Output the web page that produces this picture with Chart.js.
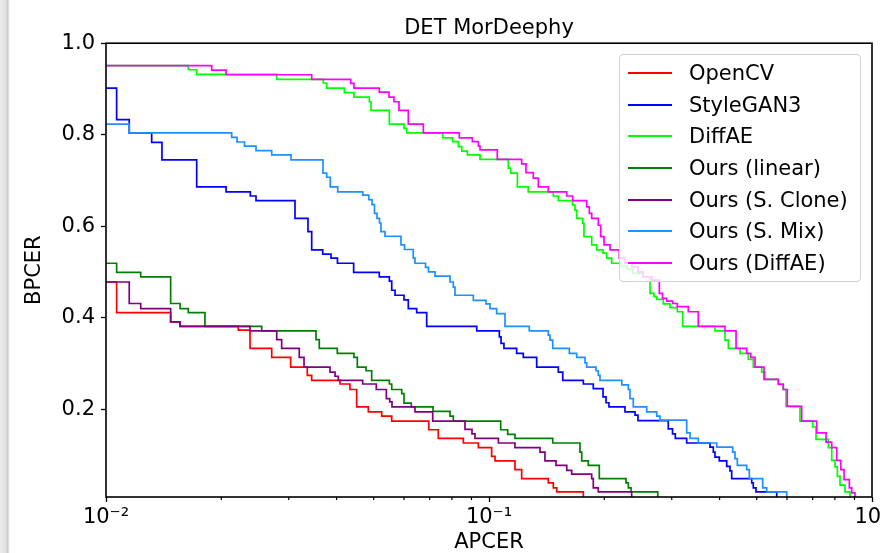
<!DOCTYPE html>
<html>
<head>
<meta charset="utf-8">
<title>DET MorDeephy</title>
<script src="https://cdn.jsdelivr.net/npm/chart.js"></script>
<style>
    html, body { margin: 0; padding: 0; background: #fff; }
    #wrap { position: relative; width: 882px; height: 553px; overflow: hidden; }
    #edge {
        position: absolute; left: 0; top: 0; width: 10px; height: 553px;
        background: linear-gradient(to right, #ececec 0px, #dedede 6px, #c6c6c6 8px, #f2f2f2 9px, #ffffff 10px);
    }
    #det-chart { position: absolute; left: 0; top: 0; }
    #legend {
        position: absolute; left: 619px; top: 54px; width: 242px; height: 228px;
        box-sizing: border-box; border: 1px solid #d2d2d2; border-radius: 4px;
        background: rgba(255, 255, 255, 0.8);
        font-family: 'DejaVu Sans', sans-serif; font-size: 21px; color: #000;
    }
    .legend-row { position: absolute; left: 0; height: 26px; width: 100%; }
    .legend-line { position: absolute; left: 8px; top: 12px; width: 44px; height: 2px; }
    .legend-text { position: absolute; left: 69px; top: 0; line-height: 26px; white-space: nowrap; }
</style>
</head>
<body>
<div id="wrap">
    <canvas id="det-chart" width="882" height="553"></canvas>
    <div id="edge"></div>
    <div id="legend"></div>
</div>
<script>
// DET curves, APCER on x (log), BPCER on y
const seriesNames = ['OpenCV', 'StyleGAN3', 'DiffAE', 'Ours (linear)', 'Ours (S. Clone)', 'Ours (S. Mix)', 'Ours (DiffAE)'];
const seriesColors = ['#ff0000', '#0000ff', '#00ff00', '#008000', '#800080', '#1e90ff', '#ff00ff'];

const opencvApcer = [0.01, 0.01066, 0.01475, 0.01561, 0.02215, 0.02377, 0.02708, 0.03035, 0.03354, 0.03444, 0.04083, 0.04335, 0.04513, 0.04841, 0.05246, 0.05572, 0.06963, 0.07372, 0.0857, 0.0938, 0.1016, 0.1037, 0.1169, 0.1217, 0.1428, 0.1472, 0.1503, 0.1763];
const opencvBpcer = [0.478, 0.411, 0.391, 0.381, 0.373, 0.333, 0.313, 0.292, 0.274, 0.263, 0.255, 0.243, 0.205, 0.194, 0.185, 0.174, 0.155, 0.136, 0.126, 0.116, 0.097, 0.087, 0.068, 0.048, 0.039, 0.028, 0.019, 0];

const styleganApcer = [0.01, 0.01066, 0.0115, 0.01316, 0.014, 0.01725, 0.02058, 0.02381, 0.02464, 0.03115, 0.03368, 0.03444, 0.0368, 0.03868, 0.04021, 0.04432, 0.0517, 0.05493, 0.05572, 0.05683, 0.05999, 0.06156, 0.06475, 0.06876, 0.0929, 0.1064, 0.1075, 0.1094, 0.1181, 0.1229, 0.1332, 0.1517, 0.1558, 0.1763, 0.1872, 0.1985, 0.2021, 0.2057, 0.2265, 0.2406, 0.2449, 0.2938, 0.3014, 0.3065, 0.3282, 0.3776, 0.3852, 0.3891, 0.3993, 0.4175, 0.4258, 0.4302, 0.4852, 0.4898, 0.4979, 0.5639];
const styleganBpcer = [0.902, 0.833, 0.804, 0.783, 0.745, 0.686, 0.675, 0.666, 0.656, 0.617, 0.588, 0.548, 0.539, 0.530, 0.519, 0.499, 0.489, 0.480, 0.460, 0.449, 0.439, 0.420, 0.411, 0.381, 0.371, 0.358, 0.344, 0.333, 0.322, 0.313, 0.292, 0.281, 0.263, 0.255, 0.245, 0.227, 0.214, 0.205, 0.194, 0.187, 0.175, 0.157, 0.146, 0.136, 0.126, 0.117, 0.106, 0.095, 0.087, 0.075, 0.065, 0.048, 0.039, 0.028, 0.019, 0];

const diffaeApcer = [0.01, 0.0164, 0.01725, 0.02791, 0.03693, 0.03769, 0.04191, 0.0444, 0.0487, 0.04919, 0.05493, 0.05999, 0.06097, 0.0757, 0.08036, 0.08317, 0.08489, 0.08779, 0.09475, 0.1123, 0.1139, 0.1186, 0.1266, 0.1472, 0.1517, 0.1654, 0.1677, 0.1694, 0.1756, 0.177, 0.1854, 0.1911, 0.1985, 0.2029, 0.2091, 0.2198, 0.2293, 0.2377, 0.2524, 0.2633, 0.2697, 0.2741, 0.2852, 0.2969, 0.3102, 0.3204, 0.3891, 0.4132, 0.4216, 0.4523, 0.4753, 0.4898, 0.5152, 0.5255, 0.5694, 0.5867, 0.5964, 0.6486, 0.7001, 0.7142, 0.7691, 0.785, 0.8007, 0.8119, 0.8251, 0.8503, 0.8764];
const diffaeBpcer = [0.951, 0.942, 0.932, 0.921, 0.913, 0.902, 0.892, 0.882, 0.872, 0.853, 0.823, 0.814, 0.804, 0.793, 0.785, 0.774, 0.764, 0.756, 0.746, 0.727, 0.716, 0.686, 0.675, 0.666, 0.656, 0.646, 0.635, 0.617, 0.606, 0.577, 0.559, 0.548, 0.541, 0.530, 0.519, 0.513, 0.506, 0.497, 0.489, 0.453, 0.446, 0.440, 0.430, 0.422, 0.413, 0.381, 0.371, 0.351, 0.333, 0.322, 0.309, 0.292, 0.281, 0.265, 0.255, 0.243, 0.206, 0.174, 0.161, 0.134, 0.116, 0.088, 0.074, 0.053, 0.034, 0.019, 0];

const linearApcer = [0.01, 0.01066, 0.01232, 0.01475, 0.01561, 0.0164, 0.01813, 0.0255, 0.03534, 0.03605, 0.04017, 0.0444, 0.04531, 0.04775, 0.0494, 0.05493, 0.05572, 0.05917, 0.05999, 0.06267, 0.07142, 0.0791, 0.08069, 0.1073, 0.1119, 0.1169, 0.1467, 0.1728, 0.1746, 0.1817, 0.1941, 0.2279, 0.2311, 0.2349, 0.2758];
const linearBpcer = [0.519, 0.499, 0.489, 0.431, 0.420, 0.411, 0.381, 0.371, 0.352, 0.333, 0.322, 0.313, 0.292, 0.284, 0.263, 0.255, 0.243, 0.234, 0.213, 0.205, 0.195, 0.185, 0.174, 0.155, 0.145, 0.136, 0.126, 0.106, 0.087, 0.077, 0.048, 0.039, 0.028, 0.019, 0];

const cloneApcer = [0.01, 0.0115, 0.01232, 0.01475, 0.01561, 0.02377, 0.02791, 0.02875, 0.03196, 0.03289, 0.03845, 0.03963, 0.04041, 0.0468, 0.05078, 0.05395, 0.05506, 0.05581, 0.06409, 0.07129, 0.08657, 0.09028, 0.09192, 0.1058, 0.1169, 0.1359, 0.14, 0.1496, 0.1596, 0.1644, 0.1854, 0.1872, 0.1929, 0.2358];
const cloneBpcer = [0.478, 0.431, 0.420, 0.391, 0.381, 0.371, 0.352, 0.333, 0.313, 0.292, 0.281, 0.272, 0.263, 0.255, 0.243, 0.223, 0.216, 0.205, 0.194, 0.174, 0.156, 0.146, 0.136, 0.126, 0.116, 0.106, 0.087, 0.077, 0.066, 0.058, 0.048, 0.028, 0.019, 0];

const mixApcer = [0.01, 0.0115, 0.02129, 0.02198, 0.02299, 0.02464, 0.02708, 0.03041, 0.03686, 0.03769, 0.03851, 0.04027, 0.0468, 0.04853, 0.0495, 0.05023, 0.051, 0.05177, 0.05224, 0.05352, 0.05891, 0.06017, 0.06343, 0.06409, 0.06827, 0.0695, 0.07228, 0.0791, 0.08069, 0.08151, 0.09101, 0.09822, 0.1006, 0.1047, 0.1101, 0.1274, 0.1428, 0.1443, 0.1467, 0.1621, 0.1694, 0.1781, 0.1799, 0.1903, 0.1929, 0.1949, 0.2222, 0.2311, 0.2334, 0.2381, 0.2581, 0.2741, 0.2796, 0.3282, 0.3348, 0.3519, 0.3931, 0.4328, 0.4389, 0.445, 0.4708, 0.4782, 0.5183, 0.531, 0.5988];
const mixBpcer = [0.823, 0.804, 0.794, 0.784, 0.775, 0.765, 0.756, 0.745, 0.716, 0.707, 0.686, 0.675, 0.668, 0.658, 0.647, 0.628, 0.617, 0.607, 0.588, 0.578, 0.559, 0.549, 0.530, 0.519, 0.510, 0.500, 0.491, 0.478, 0.467, 0.449, 0.438, 0.430, 0.420, 0.409, 0.381, 0.371, 0.362, 0.351, 0.333, 0.322, 0.313, 0.301, 0.292, 0.284, 0.274, 0.263, 0.253, 0.243, 0.223, 0.205, 0.194, 0.185, 0.176, 0.148, 0.136, 0.126, 0.117, 0.106, 0.092, 0.077, 0.068, 0.048, 0.028, 0.019, 0];

const oursDiffaeApcer = [0.01, 0.01888, 0.02058, 0.03444, 0.04353, 0.0444, 0.0517, 0.05483, 0.05649, 0.05821, 0.06156, 0.06738, 0.08366, 0.09047, 0.0938, 0.09475, 0.1051, 0.1217, 0.1249, 0.1305, 0.1345, 0.1428, 0.1596, 0.1654, 0.1799, 0.1828, 0.1854, 0.1929, 0.1957, 0.1997, 0.207, 0.2189, 0.2265, 0.2363, 0.2449, 0.2524, 0.2665, 0.2784, 0.2838, 0.2911, 0.3017, 0.3102, 0.3314, 0.3519, 0.4132, 0.4416, 0.4708, 0.4823, 0.4949, 0.5224, 0.5694, 0.5867, 0.601, 0.6553, 0.7171, 0.7586, 0.785, 0.8089, 0.8287, 0.8453, 0.8726, 0.8851, 0.9028];
const oursDiffaeBpcer = [0.951, 0.941, 0.931, 0.921, 0.912, 0.902, 0.893, 0.882, 0.872, 0.853, 0.823, 0.804, 0.793, 0.785, 0.775, 0.767, 0.746, 0.736, 0.717, 0.705, 0.686, 0.675, 0.666, 0.656, 0.642, 0.628, 0.617, 0.602, 0.577, 0.559, 0.548, 0.530, 0.519, 0.511, 0.500, 0.489, 0.482, 0.453, 0.442, 0.436, 0.431, 0.424, 0.413, 0.381, 0.371, 0.333, 0.322, 0.313, 0.292, 0.265, 0.254, 0.243, 0.206, 0.174, 0.148, 0.128, 0.116, 0.088, 0.068, 0.046, 0.028, 0.017, 0];

const xTickValues = [0.01, 0.1, 1];
const xTickLabels = ['10\u207B\u00B2', '10\u207B\u00B9', '10\u2070'];
const xMinorTicks = [0.02, 0.03, 0.04, 0.05, 0.06, 0.07, 0.08, 0.09, 0.2, 0.3, 0.4, 0.5, 0.6, 0.7, 0.8, 0.9];
const yTickValues = [0.2, 0.4, 0.6, 0.8, 1.0];
const yTickLabels = ['0.2', '0.4', '0.6', '0.8', '1.0'];

document.addEventListener('DOMContentLoaded', () => {
    const canvas = document.getElementById('det-chart');
    const legendBox = document.getElementById('legend');

    const curves = [
        [opencvApcer, opencvBpcer],
        [styleganApcer, styleganBpcer],
        [diffaeApcer, diffaeBpcer],
        [linearApcer, linearBpcer],
        [cloneApcer, cloneBpcer],
        [mixApcer, mixBpcer],
        [oursDiffaeApcer, oursDiffaeBpcer]
    ];

    const datasets = curves.map(([xs, ys], i) => ({
        label: seriesNames[i],
        data: xs.map((x, j) => ({ x: x, y: ys[j] })),
        borderColor: seriesColors[i],
        borderWidth: 1.7,
        pointRadius: 0,
        stepped: 'before',
        fill: false,
        order: seriesNames.length - i
    }));

    // spines on all four sides + short minor ticks on the log axis
    const axesFrame = {
        id: 'axesFrame',
        afterDraw(chart) {
            const { ctx, chartArea: a, scales: { x } } = chart;
            ctx.save();
            ctx.strokeStyle = '#000';
            ctx.lineWidth = 1.2;
            ctx.beginPath();
            xMinorTicks.forEach(v => {
                const px = x.getPixelForValue(v);
                ctx.moveTo(px, a.bottom);
                ctx.lineTo(px, a.bottom + 3);
            });
            ctx.stroke();
            ctx.lineWidth = 1.6;
            ctx.strokeRect(a.left, a.top, a.right - a.left, a.bottom - a.top);
            ctx.restore();
        }
    };

    const font = { family: 'DejaVu Sans', size: 21 };

    new Chart(canvas, {
        type: 'line',
        data: { datasets: datasets },
        options: {
            responsive: false,
            animation: false,
            layout: { padding: { left: 0, right: 10, top: 0, bottom: 0 } },
            plugins: {
                legend: { display: false },
                tooltip: { enabled: false },
                title: {
                    display: true,
                    text: 'DET MorDeephy',
                    fullSize: false,
                    color: '#000',
                    font: { family: 'DejaVu Sans', size: 21, weight: 'normal' },
                    padding: { top: 16, bottom: 2 }
                }
            },
            scales: {
                x: {
                    type: 'logarithmic',
                    min: 0.01,
                    max: 1,
                    afterBuildTicks: (scale) => {
                        scale.ticks = xTickValues.map(v => ({ value: v, major: true }));
                    },
                    afterFit: (scale) => {
                        scale.height = 56;
                        scale.paddingLeft = 0;
                        scale.paddingRight = 0;
                    },
                    grid: { drawOnChartArea: false, drawTicks: true, tickLength: 5, tickWidth: 1.3, tickColor: '#000' },
                    border: { display: false },
                    ticks: {
                        color: '#000',
                        font: font,
                        padding: 3,
                        maxRotation: 0,
                        autoSkip: false,
                        callback: (value, index) => xTickLabels[index]
                    },
                    title: {
                        display: true,
                        text: 'APCER',
                        color: '#000',
                        font: { family: 'DejaVu Sans', size: 21, lineHeight: 1 },
                        padding: { top: 0, bottom: 0 }
                    }
                },
                y: {
                    type: 'linear',
                    min: 0.008,
                    max: 1.0,
                    afterBuildTicks: (scale) => {
                        scale.ticks = yTickValues.map(v => ({ value: v }));
                    },
                    afterFit: (scale) => {
                        scale.width = 106;
                    },
                    grid: { drawOnChartArea: false, drawTicks: true, tickLength: 5, tickWidth: 1.3, tickColor: '#000' },
                    border: { display: false },
                    ticks: {
                        color: '#000',
                        font: font,
                        padding: 6,
                        callback: (value, index) => yTickLabels[index]
                    },
                    title: {
                        display: true,
                        text: 'BPCER',
                        color: '#000',
                        font: { family: 'DejaVu Sans', size: 21 },
                        padding: { top: 22, bottom: 0 }
                    }
                }
            }
        },
        plugins: [axesFrame]
    });

    seriesNames.forEach((name, i) => {
        const row = document.createElement('div');
        row.className = 'legend-row';
        row.style.top = (5 + i * 31.67) + 'px';
        const line = document.createElement('span');
        line.className = 'legend-line';
        line.style.background = seriesColors[i];
        const text = document.createElement('span');
        text.className = 'legend-text';
        text.textContent = name;
        row.appendChild(line);
        row.appendChild(text);
        legendBox.appendChild(row);
    });
});
</script>
</body>
</html>
